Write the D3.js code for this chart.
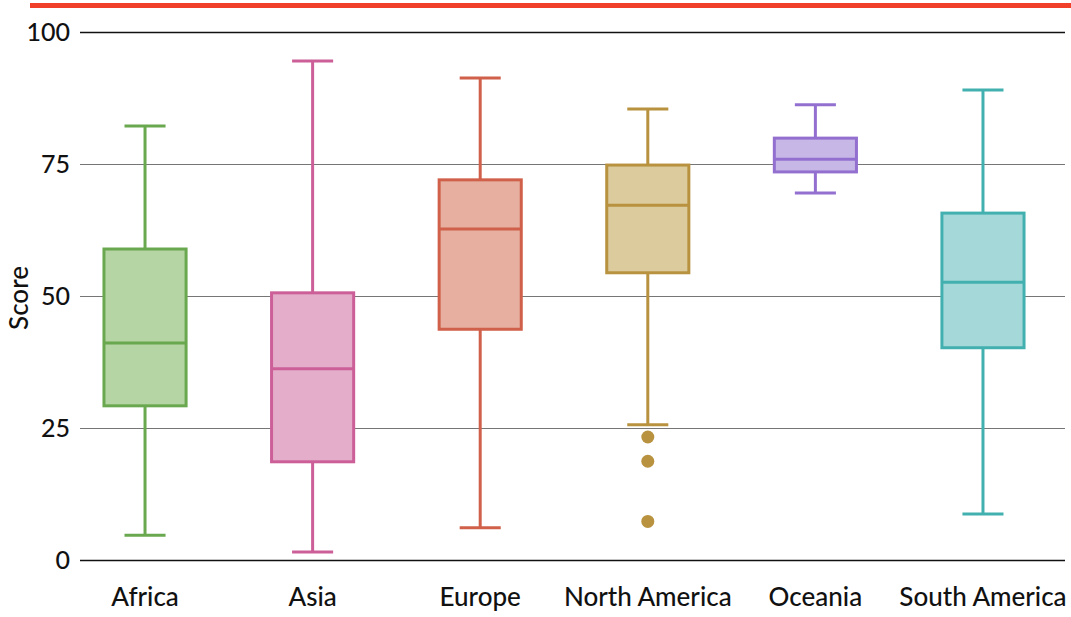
<!DOCTYPE html>
<html>
<head>
<meta charset="utf-8">
<script src="https://cdn.jsdelivr.net/npm/d3@7"></script>
<style>
  body { margin: 0; background: #fff; }
  svg { display: block; }
</style>
</head>
<body>
<svg id="chart" width="1071" height="617"></svg>
<script>
// Data
const regions = ['Africa', 'Asia', 'Europe', 'North America', 'Oceania', 'South America'];
const whiskerLow  = [4.7, 1.5, 6.1, 25.6, 69.5, 8.7];
const q1          = [29.2, 18.6, 43.7, 54.4, 73.5, 40.2];
const medians     = [41.1, 36.2, 62.7, 67.2, 75.9, 52.6];
const q3          = [58.9, 50.6, 72.0, 74.8, 79.9, 65.7];
const whiskerHigh = [82.2, 94.5, 91.3, 85.4, 86.2, 89.0];
const outliers    = [[], [], [], [23.3, 18.7, 7.3], [], []];
const yTicks = [0, 25, 50, 75, 100];

const strokes = ['#6aa84f', '#cc5f98', '#d0604a', '#b8923f', '#9370d0', '#43b0b0'];
const fills   = ['#b5d5a5', '#e4aeca', '#e6afa0', '#dccb9c', '#c7b7e6', '#a5d8d8'];

const FONT = 'Lato, "Open Sans", sans-serif';

const svg = d3.select('#chart');
const margin = {top: 32, bottom: 57, left: 80};
const width = 1071, height = 617;
const gridRight = 1065;

const x = d3.scaleBand()
    .domain(regions)
    .range([margin.left, 1048])
    .paddingInner(0.51)
    .paddingOuter(0.143);

const y = d3.scaleLinear()
    .domain([0, 100])
    .range([height - margin.bottom, margin.top]);

// red rule on top
svg.append('rect')
    .attr('x', 30).attr('y', 3)
    .attr('width', width - 30).attr('height', 5)
    .attr('fill', '#f0402a');

// gridlines + y labels
const yAxis = svg.append('g')
    .attr('transform', `translate(${margin.left},0)`)
    .call(d3.axisLeft(y).tickValues(yTicks).tickSize(-(gridRight - margin.left)).tickPadding(10))
    .attr('font-family', FONT);
yAxis.select('.domain').remove();
yAxis.selectAll('.tick line')
    .attr('stroke', d => (d === 0 || d === 100) ? '#111' : '#666')
    .attr('stroke-width', d => (d === 0 || d === 100) ? 1.3 : 0.9);
yAxis.selectAll('.tick text')
    .attr('font-size', 25)
    .attr('font-weight', 500)
    .attr('fill', '#111');

svg.append('text')
    .attr('transform', `translate(28,${y(50) + 2}) rotate(-90)`)
    .attr('text-anchor', 'middle')
    .attr('font-family', FONT)
    .attr('font-size', 26)
    .attr('font-weight', 500)
    .attr('fill', '#111')
    .text('Score');

// x labels
const xAxis = svg.append('g')
    .attr('transform', `translate(0,${height - margin.bottom})`)
    .call(d3.axisBottom(x).tickSize(0).tickPadding(28))
    .attr('font-family', FONT);
xAxis.select('.domain').remove();
xAxis.selectAll('.tick text')
    .attr('font-size', 26)
    .attr('font-weight', 500)
    .attr('fill', '#111');

// boxes
const boxes = svg.append('g')
    .selectAll('g')
    .data(regions)
    .enter()
    .append('g');

const bw = x.bandwidth();
const cx = d => x(d) + bw / 2;

boxes.append('line')
    .attr('x1', cx).attr('x2', cx)
    .attr('y1', (d, i) => y(whiskerHigh[i]))
    .attr('y2', (d, i) => y(q3[i]))
    .attr('stroke', (d, i) => strokes[i])
    .attr('stroke-width', 3);

boxes.append('line')
    .attr('x1', cx).attr('x2', cx)
    .attr('y1', (d, i) => y(q1[i]))
    .attr('y2', (d, i) => y(whiskerLow[i]))
    .attr('stroke', (d, i) => strokes[i])
    .attr('stroke-width', 3);

[whiskerHigh, whiskerLow].forEach(arr => {
    boxes.append('line')
        .attr('x1', d => cx(d) - bw / 4)
        .attr('x2', d => cx(d) + bw / 4)
        .attr('y1', (d, i) => y(arr[i]))
        .attr('y2', (d, i) => y(arr[i]))
        .attr('stroke', (d, i) => strokes[i])
        .attr('stroke-width', 3);
});

boxes.append('rect')
    .attr('x', d => x(d))
    .attr('width', bw)
    .attr('y', (d, i) => y(q3[i]))
    .attr('height', (d, i) => y(q1[i]) - y(q3[i]))
    .attr('fill', (d, i) => fills[i])
    .attr('stroke', (d, i) => strokes[i])
    .attr('stroke-width', 3);

boxes.append('line')
    .attr('x1', d => x(d))
    .attr('x2', d => x(d) + bw)
    .attr('y1', (d, i) => y(medians[i]))
    .attr('y2', (d, i) => y(medians[i]))
    .attr('stroke', (d, i) => strokes[i])
    .attr('stroke-width', 3);

boxes.each(function(d, i) {
    d3.select(this).selectAll('circle')
        .data(outliers[i])
        .enter()
        .append('circle')
        .attr('cx', cx(d))
        .attr('cy', v => y(v))
        .attr('r', 6.5)
        .attr('fill', strokes[i]);
});
</script>
</body>
</html>
